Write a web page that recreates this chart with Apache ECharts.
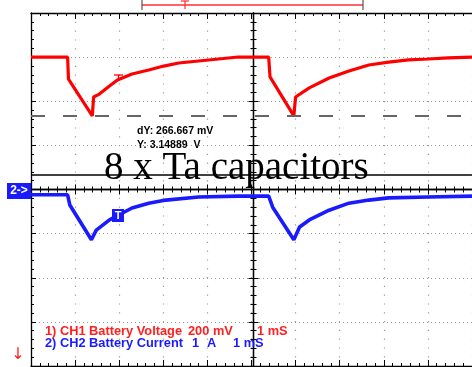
<!DOCTYPE html>
<html>
<head>
<meta charset="utf-8">
<script src="https://cdn.jsdelivr.net/npm/echarts@6/dist/echarts.min.js"></script>
<style>
  html, body { margin: 0; padding: 0; background: #fff; }
  #c { width: 472px; height: 367px; }
</style>
</head>
<body>
<div id="c"></div>
<script>
// Sweep: 1 ms per division, 10 divisions
const timeDivs = 10;
const msPerDiv = 1;

// CH1 battery voltage (V), 200 mV/div
const ch1Time  = [0, 0.83, 0.85, 0.88, 1.39, 1.42, 1.55, 1.78, 1.96, 2.29, 2.67, 3.01, 3.35, 3.80, 4.25, 4.70,
                  5.39, 5.42, 5.44, 5.96, 6.00, 6.31, 6.76, 7.21, 7.66, 8.11, 8.56, 9.01, 9.46, 10];
const ch1Volts = [3.416, 3.416, 3.316, 3.312, 3.149, 3.235, 3.248, 3.285, 3.312, 3.339, 3.357, 3.375, 3.389, 3.398, 3.407, 3.416,
                  3.416, 3.326, 3.321, 3.149, 3.235, 3.276, 3.321, 3.353, 3.380, 3.393, 3.403, 3.407, 3.412, 3.416];

// CH2 battery current (A), 1 A/div
const ch2Time = [0, 0.83, 0.88, 1.37, 1.48, 1.78, 2.29, 2.67, 3.06, 3.80, 4.70,
                 5.39, 5.48, 5.96, 6.09, 6.31, 6.76, 7.21, 7.66, 8.11, 9.01, 10];
const ch2Amps = [-0.12, -0.12, -0.35, -1.14, -0.92, -0.69, -0.42, -0.31, -0.24, -0.17, -0.15,
                 -0.15, -0.40, -1.14, -0.85, -0.69, -0.47, -0.31, -0.24, -0.19, -0.17, -0.15];

// Cursor readout
const cursorY = 3.14889;      // V
const cursorDY = 0.266667;    // V
const ch1VoltsPerDiv = 0.2;
const ch1CursorDiv = 5 + 2 / 3;   // screen division of the lower cursor
const ch2AmpsPerDiv = 1;
const ch2ZeroDiv = 4;

const ch1Min = cursorY - ch1CursorDiv * ch1VoltsPerDiv;
const ch1Max = ch1Min + 8 * ch1VoltsPerDiv;
const ch2Min = -ch2ZeroDiv * ch2AmpsPerDiv;
const ch2Max = ch2Min + 8 * ch2AmpsPerDiv;

const zip = (a, b) => a.map((t, i) => [t, b[i]]);

const BLACK = '#000';
const GRIDC = '#9a9a9a';
const RED = '#ff0000';
const BLUE = '#1a1aff';

function tickAxis(extra) {
  return Object.assign({
    type: 'value',
    axisLine: { show: true, onZero: false, lineStyle: { color: BLACK, width: 1.3 } },
    axisTick: { show: true, inside: true, length: 6, lineStyle: { color: BLACK, width: 1 } },
    minorTick: { show: true, splitNumber: 5, length: 3, lineStyle: { color: BLACK, width: 1 } },
    axisLabel: { show: false },
    splitLine: { show: false }
  }, extra);
}
function hiddenAxis(gridIndex, min, max) {
  return { type: 'value', gridIndex, min, max, show: false };
}

const L = 31, T = 13, W = 445, H = 353;
const centreTick = { show: true, inside: true, length: 5, lineStyle: { color: BLACK } };
const legendFont = 'bold 12.8px "Liberation Sans"';

const chart = echarts.init(document.getElementById('c'), null, { renderer: 'canvas' });
chart.setOption({
  animation: false,
  backgroundColor: '#fff',
  grid: [
    { left: L, top: T, width: W, height: H },
    { left: L, top: T, width: W, height: H / 2 },
    { left: L, top: T + H / 2, width: W, height: H / 2 },
    { left: L, top: T, width: W / 2, height: H },
    { left: L + W / 2, top: T, width: W / 2, height: H }
  ],
  xAxis: [
    tickAxis({ gridIndex: 0, position: 'bottom', min: 0, max: timeDivs * msPerDiv, interval: msPerDiv,
      splitLine: { show: true, lineStyle: { color: GRIDC, width: 1.2, type: [1.2, 7.6] } } }),
    tickAxis({ gridIndex: 0, position: 'top', min: 0, max: timeDivs * msPerDiv, interval: msPerDiv }),
    tickAxis({ gridIndex: 1, position: 'bottom', min: 0, max: timeDivs, interval: 1, axisTick: centreTick }),
    tickAxis({ gridIndex: 2, position: 'top', min: 0, max: timeDivs, interval: 1, axisTick: centreTick }),
    hiddenAxis(3, 0, 1),
    hiddenAxis(4, 0, 1)
  ],
  yAxis: [
    tickAxis({ gridIndex: 0, position: 'left', min: 0, max: 8, interval: 1, axisTick: centreTick,
      splitLine: { show: true, lineStyle: { color: GRIDC, width: 1, type: [1, 3] } } }),
    hiddenAxis(0, ch1Min, ch1Max),
    hiddenAxis(0, ch2Min, ch2Max),
    hiddenAxis(1, 0, 1),
    hiddenAxis(2, 0, 1),
    tickAxis({ gridIndex: 3, position: 'right', min: 0, max: 8, interval: 1, axisTick: centreTick }),
    tickAxis({ gridIndex: 4, position: 'left', min: 0, max: 8, interval: 1, axisTick: centreTick })
  ],
  series: [
    {
      name: 'CH1 Battery Voltage',
      type: 'line',
      xAxisIndex: 0, yAxisIndex: 1,
      data: zip(ch1Time, ch1Volts),
      showSymbol: false,
      lineStyle: { color: RED, width: 3.2 },
      z: 3,
      markLine: {
        silent: true,
        symbol: 'none',
        label: { show: false },
        lineStyle: { color: '#666', width: 2, type: [14, 18] },
        data: [{ yAxis: cursorY }]
      }
    },
    {
      name: 'CH2 Battery Current',
      type: 'line',
      xAxisIndex: 0, yAxisIndex: 2,
      data: zip(ch2Time, ch2Amps),
      showSymbol: false,
      lineStyle: { color: BLUE, width: 3.6 },
      z: 4
    }
  ],
  graphic: [
    // memory window bracket with trigger marker
    { type: 'line', shape: { x1: 142, y1: 5, x2: 363, y2: 5 }, style: { stroke: '#ff3030', lineWidth: 1.5 } },
    { type: 'line', shape: { x1: 142, y1: 0, x2: 142, y2: 10 }, style: { stroke: '#555', lineWidth: 1.2 } },
    { type: 'line', shape: { x1: 363, y1: 0, x2: 363, y2: 10 }, style: { stroke: '#555', lineWidth: 1.2 } },
    { type: 'line', shape: { x1: 181, y1: 1, x2: 189, y2: 1 }, style: { stroke: '#ff3030', lineWidth: 1.2 } },
    { type: 'line', shape: { x1: 185, y1: 1, x2: 185, y2: 9 }, style: { stroke: '#ff3030', lineWidth: 1.2 } },

    // CH1 trigger mark
    { type: 'line', shape: { x1: 114, y1: 75, x2: 123, y2: 75 }, style: { stroke: RED, lineWidth: 1.3 }, z: 10 },
    { type: 'line', shape: { x1: 118.5, y1: 75, x2: 118.5, y2: 81 }, style: { stroke: RED, lineWidth: 1.3 }, z: 10 },

    // CH2 trigger mark
    { type: 'rect', shape: { x: 112, y: 209, width: 12, height: 13 }, style: { fill: BLUE }, z: 10 },
    { type: 'text', x: 118, y: 215.5, z: 11, style: { text: 'T', fill: '#fff', font: 'bold 11px "Liberation Sans"', textAlign: 'center', textVerticalAlign: 'middle', verticalAlign: 'middle' } },

    // CH2 ground marker
    { type: 'rect', shape: { x: 7, y: 183, width: 24, height: 16 }, style: { fill: BLUE }, z: 10 },
    { type: 'text', x: 19, y: 191, z: 11, style: { text: '2->', fill: '#fff', font: 'bold 12px "Liberation Sans"', textAlign: 'center', textVerticalAlign: 'middle', verticalAlign: 'middle' } },

    // cursor readout
    { type: 'text', x: 137, y: 131, z: 10, style: { text: 'dY: ' + (cursorDY * 1000).toFixed(3) + ' mV', fill: '#000', font: 'bold 10.5px "Liberation Sans"', textVerticalAlign: 'middle', verticalAlign: 'middle' } },
    { type: 'text', x: 137, y: 145, z: 10, style: { text: 'Y: ' + cursorY.toFixed(5) + '  V', fill: '#000', font: 'bold 10.5px "Liberation Sans"', textVerticalAlign: 'middle', verticalAlign: 'middle' } },

    // caption
    { type: 'line', shape: { x1: 31, y1: 175, x2: 472, y2: 175 }, style: { stroke: '#000', lineWidth: 1.5 }, z: 10 },
    { type: 'text', x: 104, y: 149.5, z: 12, style: { text: '8 x Ta capacitors', fill: '#000', font: '39px "Liberation Serif"', textVerticalAlign: 'top', verticalAlign: 'top' } },

    // channel legend
    { type: 'text', x: 45, y: 331.5, z: 10, style: { text: '1) CH1 Battery Voltage', fill: '#ff2020', font: legendFont, textVerticalAlign: 'middle', verticalAlign: 'middle' } },
    { type: 'text', x: 188, y: 331.5, z: 10, style: { text: '200 mV', fill: '#ff2020', font: legendFont, textVerticalAlign: 'middle', verticalAlign: 'middle' } },
    { type: 'text', x: 257, y: 331.5, z: 10, style: { text: '1 mS', fill: '#ff2020', font: legendFont, textVerticalAlign: 'middle', verticalAlign: 'middle' } },
    { type: 'text', x: 45, y: 343.5, z: 10, style: { text: '2) CH2 Battery Current', fill: BLUE, font: legendFont, textVerticalAlign: 'middle', verticalAlign: 'middle' } },
    { type: 'text', x: 192, y: 343.5, z: 10, style: { text: '1', fill: BLUE, font: legendFont, textVerticalAlign: 'middle', verticalAlign: 'middle' } },
    { type: 'text', x: 207, y: 343.5, z: 10, style: { text: 'A', fill: BLUE, font: legendFont, textVerticalAlign: 'middle', verticalAlign: 'middle' } },
    { type: 'text', x: 233, y: 343.5, z: 10, style: { text: '1 mS', fill: BLUE, font: legendFont, textVerticalAlign: 'middle', verticalAlign: 'middle' } },

    // off-screen indicator
    { type: 'text', x: 18, y: 355, z: 10, style: { text: '↓', fill: '#ff2020', font: '16px "DejaVu Sans"', textAlign: 'center', textVerticalAlign: 'middle', verticalAlign: 'middle' } }
  ]
});
</script>
</body>
</html>
